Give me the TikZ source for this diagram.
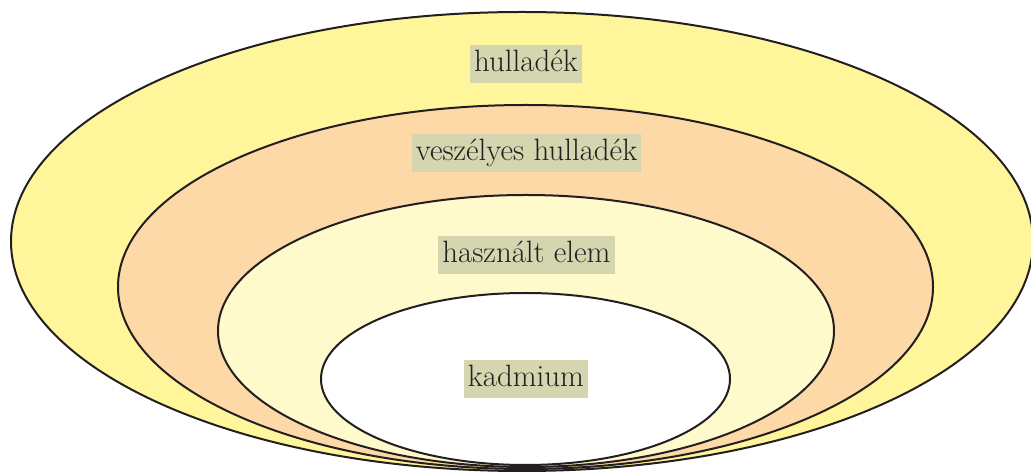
\documentclass[tikz,border=0pt]{standalone}
\usetikzlibrary{shapes.geometric}
\definecolor{outeryellow}{HTML}{FFF59A}
\definecolor{peach}{HTML}{FDD9A8}
\definecolor{paleyellow}{HTML}{FFFACC}
\definecolor{tagbg}{HTML}{D5D6B0}
\definecolor{inkline}{HTML}{231F20}
\begin{document}
\begin{tikzpicture}[x=1bp,y=-1bp,
  ring/.style={ellipse,draw=inkline,line width=2bp,inner sep=0pt},
  tag/.style={fill=tagbg,text=inkline,inner xsep=4bp,inner ysep=4.5bp,
    text height=22bp,text depth=7bp,font=\fontsize{31}{36}\selectfont}]
\path[use as bounding box] (0,0) rectangle (1031,472);
\node[ring,fill=outeryellow,minimum width=1022bp,minimum height=459bp] (waste) at (522,241.5) {};
\node[ring,fill=peach,minimum width=815bp,minimum height=364bp] (hazard) at (525.5,287) {};
\node[ring,fill=paleyellow,minimum width=616bp,minimum height=272bp] (battery) at (526,331) {};
\node[ring,fill=white,minimum width=409bp,minimum height=172bp] (cadmium) at (525.5,379) {};
\node[tag] (wastelabel) at (526,64.5) {hulladék};
\node[tag] (hazardlabel) at (526.5,153.5) {veszélyes hulladék};
\node[tag] (batterylabel) at (526.5,255) {használt elem};
\node[tag] (cadmiumlabel) at (526,379) {kadmium};
\end{tikzpicture}
\end{document}
